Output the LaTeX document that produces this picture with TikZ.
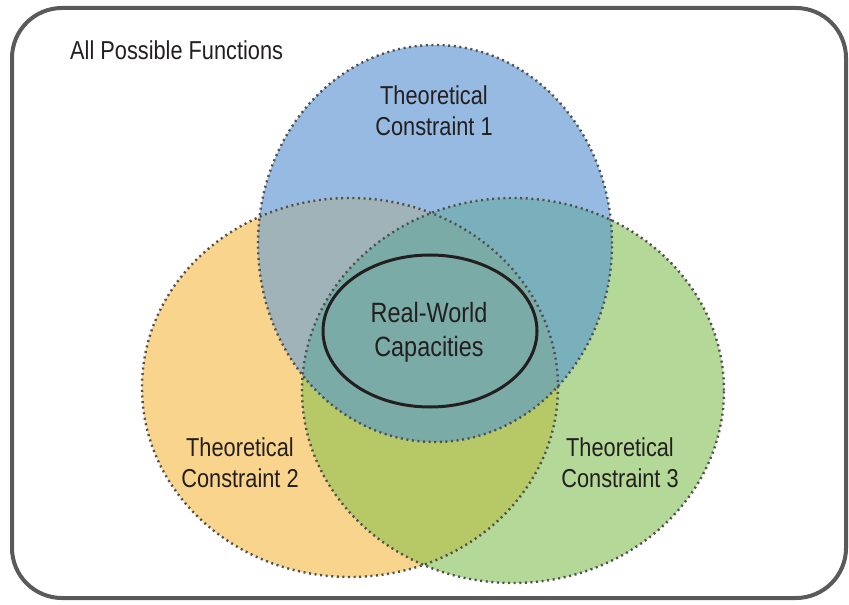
\documentclass[tikz,border=0pt]{standalone}
\usepackage{fontspec}
\setmainfont{Liberation Sans}[FakeStretch=0.84]
\usetikzlibrary{positioning}

\definecolor{conBlue}{RGB}{150,186,225}
\definecolor{conOrange}{RGB}{249,212,140}
\definecolor{conGreen}{RGB}{180,216,151}
\definecolor{blueOrange}{RGB}{160,179,184}
\definecolor{blueGreen}{RGB}{121,176,188}
\definecolor{orangeGreen}{RGB}{183,201,102}
\definecolor{allThree}{RGB}{123,171,167}
\definecolor{dotGray}{RGB}{80,80,80}
\definecolor{frameGray}{RGB}{90,90,90}
\definecolor{textBlack}{RGB}{35,31,32}

\begin{document}
\begin{tikzpicture}[
    x=1bp, y=-1bp,
    frame/.style={draw=frameGray, line width=4bp, rounded corners=50bp},
    outline/.style={draw=dotGray, line width=2.4bp, dash pattern=on 2bp off 3.6bp},
    capacity/.style={draw=textBlack, line width=3bp},
    caption/.style={font=\fontsize{26}{31}\selectfont, text=textBlack, align=center, inner sep=0pt},
    bigcaption/.style={caption, font=\fontsize{28}{34}\selectfont}]

    \def\conone{(435,243.5) ellipse [x radius=177bp, y radius=198.5bp]}
    \def\contwo{(350,387.5) ellipse [x radius=208bp, y radius=189.5bp]}
    \def\conthree{(513,390.5) ellipse [x radius=211bp, y radius=192.5bp]}

    \useasboundingbox (0,0) rectangle (849,605);
    \draw[frame] (12,8) rectangle (846,598);

    % the three constraints
    \fill[conBlue] \conone;
    \fill[conOrange] \contwo;
    \fill[conGreen] \conthree;

    % overlaps
    \begin{scope}
        \clip \contwo;
        \fill[orangeGreen] \conthree;
    \end{scope}
    \begin{scope}
        \clip \conone;
        \fill[blueOrange] \contwo;
        \fill[blueGreen] \conthree;
        \clip \contwo;
        \fill[allThree] \conthree;
    \end{scope}

    \draw[outline] \conone;
    \draw[outline] \contwo;
    \draw[outline] \conthree;

    \draw[capacity] (430,331) ellipse [x radius=107bp, y radius=76bp];

    % labels
    \node[caption, anchor=base west] (All) at (70,59.3) {All Possible Functions};
    \node[caption] (One) at (434,110.5) {Theoretical\\Constraint 1};
    \node[bigcaption] (Real) at (429,332) {Real-World\\Capacities};
    \node[caption] (Two) at (240,463) {Theoretical\\Constraint 2};
    \node[caption] (Three) at (620,463) {Theoretical\\Constraint 3};
\end{tikzpicture}
\end{document}
